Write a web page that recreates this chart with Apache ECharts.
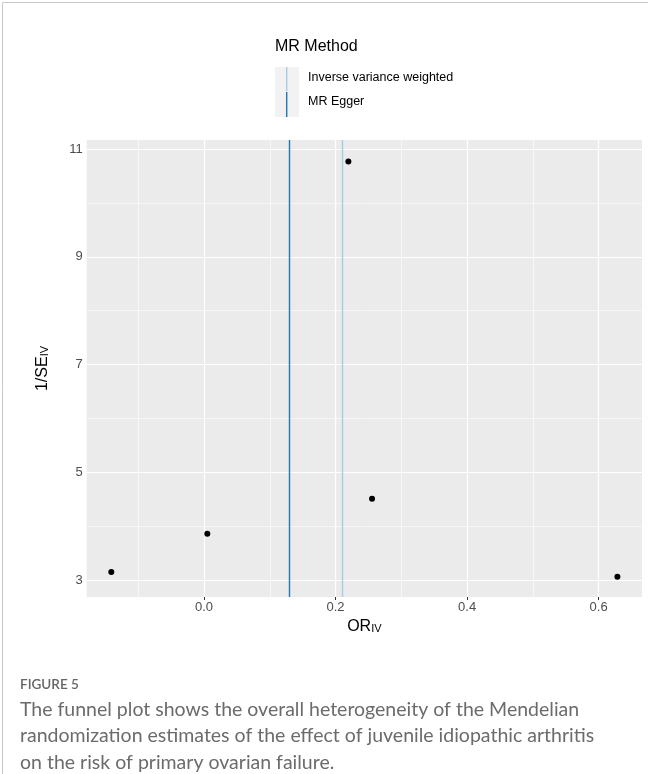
<!DOCTYPE html>
<html>
<head>
<meta charset="utf-8">
<script src="https://cdn.jsdelivr.net/npm/echarts@6/dist/echarts.min.js"></script>
<style>
html,body{margin:0;padding:0;background:#fff;}
#c{width:648px;height:774px;}
</style>
</head>
<body>
<div id="c"></div>
<script>
// ---- data ----
const orIV = [0.2195, -0.141, 0.005, 0.2555, 0.6286];
const invSE = [10.77, 3.15, 3.86, 4.51, 3.06];
const methodNames = ['Inverse variance weighted', 'MR Egger'];
const methodEstimates = [0.2056, 0.1300];
const methodColors = ['#a6cee3', '#1f78b4'];
const xTicks = [0, 0.2, 0.4, 0.6];
const xMinor = [-0.1, 0.1, 0.3, 0.5];
const yTicks = [3, 5, 7, 9, 11];
const yMinor = [4, 6, 8, 10];
const captionTitle = 'FIGURE 5';
const captionLines = [
  'The funnel plot shows the overall heterogeneity of the Mendelian',
  'randomization estimates of the effect of juvenile idiopathic arthritis',
  'on the risk of primary ovarian failure.'
];

const chart = echarts.init(document.getElementById('c'), null, {renderer: 'canvas'});
const FONT = 'Liberation Sans, Arial, sans-serif';

const gridMarks = [];
xMinor.forEach(v => gridMarks.push({xAxis: v, lineStyle: {color: '#fff', width: 0.6, type: 'solid'}}));
yMinor.forEach(v => gridMarks.push({yAxis: v, lineStyle: {color: '#fff', width: 0.6, type: 'solid'}}));
xTicks.forEach(v => gridMarks.push({xAxis: v, lineStyle: {color: '#fff', width: 1.2, type: 'solid'}}));
yTicks.forEach(v => gridMarks.push({yAxis: v, lineStyle: {color: '#fff', width: 1.2, type: 'solid'}}));

const methodMarks = methodNames.map((n, i) => ({
  name: n, xAxis: methodEstimates[i],
  lineStyle: {color: methodColors[i], width: 1.4, type: 'solid', opacity: 1}
}));

const option = {
  animation: false,
  grid: {left: 86.7, top: 140, right: 6, bottom: 177, show: true, backgroundColor: '#ebebeb', borderWidth: 0},
  xAxis: {
    type: 'value', min: -0.1784, max: 0.666,
    splitLine: {show: false},
    axisLine: {show: false},
    axisTick: {show: true, length: 3, lineStyle: {color: '#333', width: 1}, customValues: xTicks},
    axisLabel: {customValues: xTicks, color: '#4d4d4d', fontSize: 13, fontFamily: FONT, margin: 4,
      formatter: v => v.toFixed(1)},
    name: 'OR{s|IV}', nameLocation: 'middle', nameGap: 16,
    nameTextStyle: {color: '#000', fontSize: 16, fontFamily: FONT,
      rich: {s: {fontSize: 11, fontFamily: FONT, color: '#000', verticalAlign: 'bottom', padding: [4,0,0,0]}}}
  },
  yAxis: {
    type: 'value', min: 2.685, max: 11.167,
    splitLine: {show: false},
    axisLine: {show: false},
    axisTick: {show: true, length: 3, lineStyle: {color: '#333', width: 1}, customValues: yTicks},
    axisLabel: {customValues: yTicks, color: '#4d4d4d', fontSize: 13, fontFamily: FONT, margin: 4},
    name: '1/SE{s|IV}', nameLocation: 'middle', nameGap: 36, nameRotate: 90,
    nameTextStyle: {color: '#000', fontSize: 16, fontFamily: FONT,
      rich: {s: {fontSize: 11, fontFamily: FONT, color: '#000', verticalAlign: 'bottom', padding: [4,0,0,0]}}}
  },
  series: [
    {
      type: 'scatter', data: [], silent: true,
      markLine: {silent: true, symbol: 'none', label: {show: false}, animation: false, data: gridMarks}
    },
    {
      type: 'scatter', data: [], silent: true, z: 3,
      markLine: {silent: true, symbol: 'none', label: {show: false}, animation: false, data: methodMarks}
    },
    {
      type: 'scatter', z: 5,
      data: orIV.map((x, i) => [x, invSE[i]]),
      symbol: 'circle', symbolSize: 6,
      itemStyle: {color: '#000', opacity: 1}
    }
  ],
  graphic: [
    {type: 'line', shape: {x1: 2.5, y1: 2.5, x2: 648, y2: 2.5}, style: {stroke: '#c8c8c8', lineWidth: 1}},
    {type: 'line', shape: {x1: 2.5, y1: 2.5, x2: 2.5, y2: 774}, style: {stroke: '#c8c8c8', lineWidth: 1}},
    {type: 'text', left: 275, top: 39, style: {text: 'MR Method', font: '16px ' + FONT, fill: '#000'}},
    {type: 'rect', shape: {x: 275, y: 67, width: 24, height: 50}, style: {fill: '#f2f2f2'}},
    {type: 'line', shape: {x1: 286.7, y1: 67, x2: 286.7, y2: 91}, style: {stroke: methodColors[0], lineWidth: 1.4}},
    {type: 'line', shape: {x1: 286.7, y1: 92, x2: 286.7, y2: 117}, style: {stroke: methodColors[1], lineWidth: 1.4}},
    {type: 'text', left: 308, top: 71, style: {text: methodNames[0], font: '12.5px ' + FONT, fill: '#000'}},
    {type: 'text', left: 308, top: 95, style: {text: methodNames[1], font: '12.5px ' + FONT, fill: '#000'}},
    {type: 'text', left: 20, top: 678, style: {text: captionTitle, font: '600 13.5px Lato, "Open Sans", sans-serif', fill: '#666'}},
    {type: 'text', left: 20, top: 696, style: {text: captionLines.join('\n'), font: '19.5px Lato, "Open Sans", sans-serif', fill: '#6b6b6b', lineHeight: 26.5}}
  ]
};
chart.setOption(option);
</script>
</body>
</html>
